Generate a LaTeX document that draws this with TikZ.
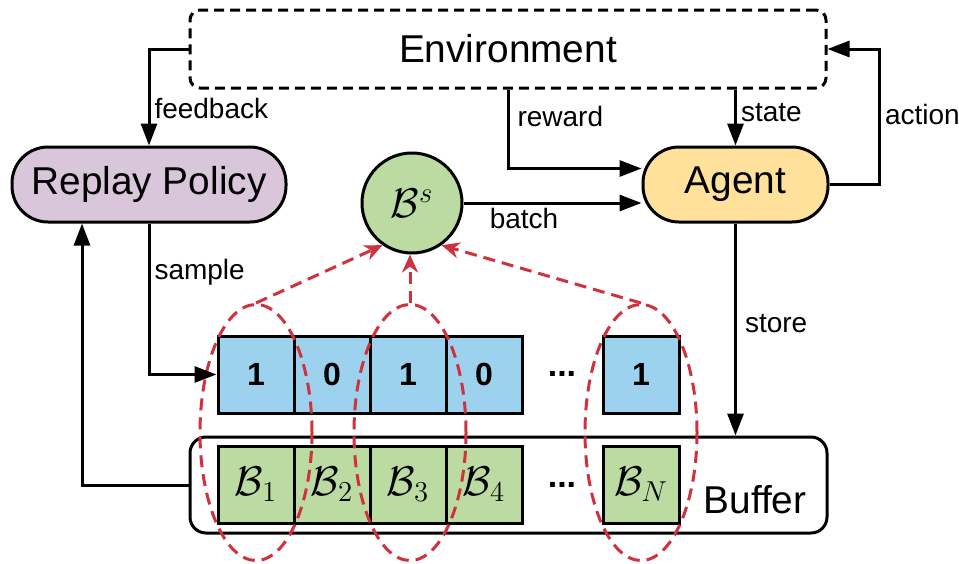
\documentclass[tikz,border=0pt]{standalone}
\usepackage{amsmath}
\usepackage{amssymb}
\usepackage{fontspec}
\setmainfont{Liberation Sans}
\usetikzlibrary{shapes.geometric, arrows.meta, positioning}

\definecolor{policycol}{HTML}{D9C6DA}
\definecolor{agentcol}{HTML}{FFE19B}
\definecolor{batchcol}{HTML}{BBDBA3}
\definecolor{maskcol}{HTML}{9CD2EE}
\definecolor{dashred}{HTML}{D0313F}

\begin{document}
\begin{tikzpicture}[x=0.5pt, y=-0.5pt, line width=1.5pt,
    box/.style={draw, rounded corners=18pt, minimum height=37.5pt, inner sep=0pt, font=\fontsize{19.4}{23}\selectfont},
    cell/.style={draw, minimum width=38pt, minimum height=38.5pt, inner sep=0pt},
    lbl/.style={font=\fontsize{14}{16}\selectfont, inner sep=2pt},
    arr/.style={-{Triangle[length=11pt, width=8pt]}},
    redarr/.style={draw=dashred, line width=1.5pt, dash pattern=on 6pt off 3.5pt, -{Stealth[length=9pt, width=8pt]}},
    grp/.style={draw=dashred, line width=1.5pt, dash pattern=on 6pt off 3.5pt, ellipse, minimum width=56pt, minimum height=128pt, inner sep=0pt}]

    \useasboundingbox (0,0) rectangle (959,563);

    % environment, policy, agent
    \node[box, rounded corners=5pt, dash pattern=on 5pt off 3pt, minimum width=318pt, minimum height=39pt] (env) at (508,49) {Environment};
    \node[box, fill=policycol, minimum width=137pt] (rp) at (149,184.5) {Replay Policy};
    \node[box, fill=agentcol, minimum width=92.5pt] (ag) at (735.5,184.5) {Agent};
    \node[circle, draw, fill=batchcol, minimum size=50pt, inner sep=0pt, font=\fontsize{21}{24}\selectfont] (bs) at (412,203) {$\mathcal{B}^s$};

    % buffer
    \node[draw, rounded corners=8pt, minimum width=318.5pt, minimum height=48pt] (buf) at (508.5,485) {};
    \node[font=\fontsize{19.4}{23}\selectfont] (buftxt) at (755,500) {Buffer};

    % mask row and stored batches
    \foreach \i/\x/\v in {1/256/1, 2/332/0, 3/408/1, 4/484/0, 5/641/1} {
        \node[cell, fill=maskcol, font=\fontsize{16}{18}\bfseries\selectfont] (m\i) at (\x,374.5) {\v};
    }
    \foreach \i/\x/\s in {1/256/1, 2/332/2, 3/408/3, 4/484/4, 5/641/N} {
        \node[cell, fill=batchcol, font=\fontsize{20}{22}\selectfont] (b\i) at (\x,484.5) {$\mathcal{B}_{\s}$};
    }
    \node[font=\fontsize{17}{18}\bfseries\selectfont] (mdots) at (562,374) {...};
    \node[font=\fontsize{17}{18}\bfseries\selectfont] (bdots) at (562,485) {...};

    % sampled groups
    \foreach \i/\x in {1/256, 2/410, 3/641} {
        \node[grp] (e\i) at (\x,432.5) {};
    }
    \draw[redarr] (e1.north) -- (bs.235);
    \draw[redarr] (e2.north) -- (e2.north |- bs.south);
    \draw[redarr] (e3.north) -- (bs.305);

    % connectors
    \draw[arr] (env.west) -| node[lbl, pos=0.81, anchor=west] {feedback} (rp.north);
    \draw[arr] (env.south) |- node[lbl, pos=0.17, anchor=west, xshift=2pt] {reward} ([yshift=8pt]ag.west);
    \draw[arr] (ag.north |- env.south) -- node[lbl, pos=0.42, anchor=west] {state} (ag.north);
    \draw[arr] (ag.east) -- ++(50,0) |- node[lbl, pos=0.26, anchor=west, inner sep=1pt, xshift=1pt] {action} (env.east);
    \draw[arr] (bs.east) -- node[lbl, pos=0.34, below] {batch} (bs.east -| ag.west);
    \draw[arr] (rp.south) |- node[lbl, pos=0.16, anchor=west] {sample} (m1.west);
    \draw[arr] (ag.south) -- node[lbl, pos=0.47, anchor=west, xshift=2pt] {store} (ag.south |- buf.north);
    \draw[arr] (buf.west) -| ([xshift=-33.5pt]rp.south);
\end{tikzpicture}
\end{document}
